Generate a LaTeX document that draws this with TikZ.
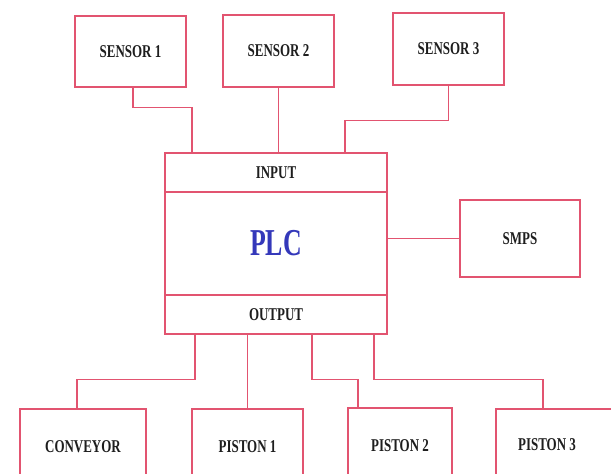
\documentclass[tikz,border=0pt]{standalone}
\usepackage{fontspec}
\setmainfont{Liberation Serif}
\newfontfamily\lblfont{Liberation Serif}[FakeStretch=0.72]
\newfontfamily\plcfont{Liberation Serif}[FakeStretch=0.68]
\definecolor{wire}{RGB}{226,84,112}
\definecolor{plcblue}{RGB}{52,56,186}
\definecolor{txt}{RGB}{30,30,30}
\begin{document}
\begin{tikzpicture}[x=1pt,y=-1pt,
  box/.style={draw=wire,line width=1.1pt,fill=white,inner sep=0pt,
    font=\lblfont\bfseries\fontsize{18}{18}\selectfont,text=txt},
  lbl/.style={inner sep=0pt,font=\lblfont\bfseries\fontsize{18}{18}\selectfont,text=txt},
  wireline/.style={draw=wire,line width=1.1pt}]
\useasboundingbox (0,0) rectangle (611,474);
\clip (0,0) rectangle (611,474);
% sensors
\node[box,minimum width=111,minimum height=71] (s1) at (130.5,51.5) {SENSOR 1};
\node[box,minimum width=111,minimum height=72] (s2) at (278.5,51) {SENSOR 2};
\node[box,minimum width=111,minimum height=72] (s3) at (448.5,49) {SENSOR 3};
% PLC
\node[box,minimum width=222,minimum height=39] (in) at (276,172.5) {INPUT};
\node[box,minimum width=222,minimum height=103,font=\plcfont\bfseries\fontsize{38}{38}\selectfont,text=plcblue] (plc) at (276,243.5) {PLC};
\node[box,minimum width=222,minimum height=39] (out) at (276,314.5) {OUTPUT};
% SMPS
\node[box,minimum width=120,minimum height=77] (smps) at (520,238.5) {SMPS};
% outputs
\node[box,minimum width=126,minimum height=76] (cv) at (83,447) {CONVEYOR};
\node[box,minimum width=111,minimum height=76] (p1) at (247.5,447) {PISTON 1};
\node[box,minimum width=104,minimum height=76] (p2) at (400,446) {PISTON 2};
\node[box,minimum width=124,minimum height=76] (p3) at (558,447) {};
\node[lbl] (p3t) at (547,445) {PISTON 3};
% connectors
\draw[wireline] ([xshift=2.5pt]s1.south) -- ++(0,20) -| ([xshift=-84pt]in.north);
\draw[wireline] (s2.south) -- (s2.south |- in.north);
\draw[wireline] (s3.south) -- ++(0,35) -| ([xshift=69pt]in.north);
\draw[wireline] (smps.west) -- (smps.west -| plc.east);
\draw[wireline] ([xshift=-81pt]out.south) -- ++(0,45) -| ([xshift=-6pt]cv.north);
\draw[wireline] (p1.north) -- (p1.north |- out.south);
\draw[wireline] ([xshift=36pt]out.south) -- ++(0,45) -| ([xshift=-42pt]p2.north);
\draw[wireline] ([xshift=98pt]out.south) -- ++(0,45) -| ([xshift=-15pt]p3.north);
\end{tikzpicture}
\end{document}
